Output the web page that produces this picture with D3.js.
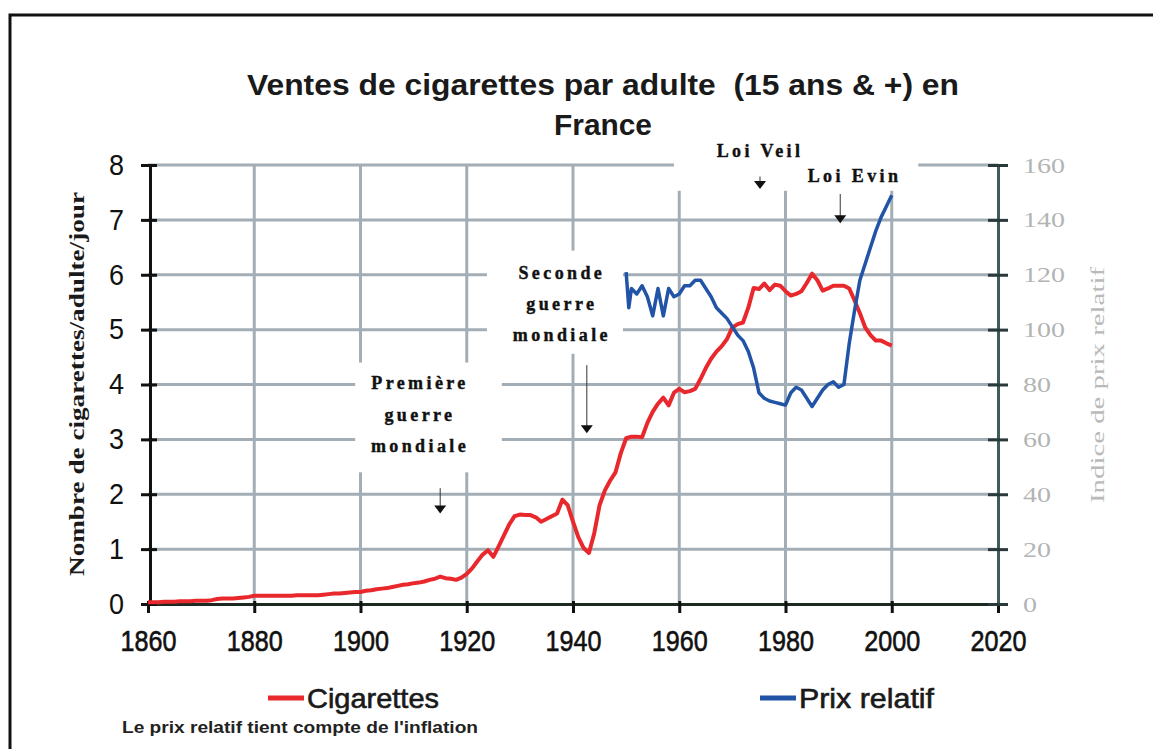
<!DOCTYPE html>
<html>
<head>
<meta charset="utf-8">
<script src="https://cdn.jsdelivr.net/npm/d3@7"></script>
<style>
  html, body { margin: 0; padding: 0; background: #fff; }
  svg { display: block; }
  .narrow { font-family: "Liberation Sans Narrow", "Arial Narrow", "Liberation Sans", sans-serif; font-weight: bold; }
  .serif { font-family: "Liberation Serif", "DejaVu Serif", serif; }
</style>
</head>
<body>
<div id="chart"></div>
<script>
// cigarettes per adult per day, one value per year 1860..2000
var cigYears = d3.range(1860, 2001);
var cigValues = [
  0.03, 0.03, 0.03, 0.04, 0.04, 0.04, 0.05, 0.05, 0.05, 0.06,
  0.06, 0.06, 0.07, 0.09, 0.10, 0.10, 0.10, 0.11, 0.12, 0.13,
  0.15, 0.15, 0.15, 0.15, 0.15, 0.15, 0.15, 0.15, 0.16, 0.16,
  0.16, 0.16, 0.16, 0.17, 0.18, 0.19, 0.19, 0.20, 0.21, 0.22,
  0.22, 0.24, 0.25, 0.27, 0.28, 0.29, 0.31, 0.33, 0.35, 0.36,
  0.38, 0.39, 0.41, 0.44, 0.46, 0.50, 0.47, 0.46, 0.44, 0.48,
  0.55, 0.65, 0.78, 0.90, 0.98, 0.86, 1.05, 1.25, 1.45, 1.60,
  1.63, 1.62, 1.62, 1.58, 1.50, 1.55, 1.60, 1.65, 1.90, 1.80,
  1.50, 1.22, 1.02, 0.93, 1.29, 1.80, 2.07, 2.25, 2.40, 2.75,
  3.02, 3.05, 3.05, 3.04, 3.30, 3.50, 3.65, 3.76, 3.62, 3.85,
  3.92, 3.86, 3.88, 3.92, 4.10, 4.30, 4.47, 4.60, 4.70, 4.83,
  5.04, 5.10, 5.13, 5.40, 5.76, 5.74, 5.84, 5.72, 5.82, 5.80,
  5.70, 5.62, 5.65, 5.70, 5.85, 6.02, 5.90, 5.71, 5.75, 5.80,
  5.80, 5.80, 5.75, 5.53, 5.30, 5.04, 4.90, 4.80, 4.80, 4.75,
  4.71
];

// relative price index (inflation adjusted)
var priceYears = [1950, 1950.5, 1951, 1952, 1953, 1954, 1955, 1956, 1957, 1958, 1959,
  1960, 1961, 1962, 1963, 1964, 1965, 1966, 1967, 1968, 1969,
  1970, 1971, 1972, 1973, 1974, 1975, 1976, 1977, 1978, 1979,
  1980, 1981, 1982, 1983, 1984, 1985, 1986, 1987, 1988, 1989,
  1990, 1991, 1992, 1993, 1994, 1995, 1996, 1997, 1998, 1999, 2000];
var priceValues = [121, 108, 115, 113, 116, 112, 105, 115, 105, 115, 112,
  113, 116, 116, 118, 118, 115, 112, 108, 106, 104,
  101, 98, 96, 92, 86, 77, 75, 74, 73.5, 73,
  72.5, 77, 79, 78, 75, 72, 75, 78, 80, 81,
  79, 80, 95, 107, 118, 124, 130, 136, 141, 145, 149];

var xTicks = [1860, 1880, 1900, 1920, 1940, 1960, 1980, 2000, 2020];
var yTicks = [0, 1, 2, 3, 4, 5, 6, 7, 8];
var y2Ticks = [0, 20, 40, 60, 80, 100, 120, 140, 160];

var titleLines = ["Ventes de cigarettes par adulte  (15 ans & +) en", "France"];
var events = [
  {lines: ["Première", "guerre", "mondiale"], year: 1915, value: 1.76},
  {lines: ["Seconde", "guerre", "mondiale"], year: 1942.6, value: 3.22},
  {lines: ["Loi Veil"], year: 1975.2, value: 7.67},
  {lines: ["Loi Evin"], year: 1990.3, value: 7.05}
];

var W = 1153, H = 749;
var x = d3.scaleLinear().domain([1860, 2020]).range([148, 998]);
var y = d3.scaleLinear().domain([0, 8]).range([604, 165]);
var y2 = d3.scaleLinear().domain([0, 160]).range([604, 165]);

var svg = d3.select("#chart").append("svg")
    .attr("width", W)
    .attr("height", H);

// frame
svg.append("path")
    .attr("d", "M10,749 L10,15 L1153,15")
    .style("fill", "none")
    .style("stroke", "#111")
    .style("stroke-width", 3);

var gridColor = "#a3adb5";

// grid
svg.append("g").selectAll("line")
    .data(yTicks.slice(1))
    .enter().append("line")
    .attr("x1", x(1860)).attr("x2", x(2020))
    .attr("y1", function(d) { return y(d); })
    .attr("y2", function(d) { return y(d); })
    .style("stroke", gridColor)
    .style("stroke-width", 3);

svg.append("g").selectAll("line")
    .data(xTicks.slice(1, -1))
    .enter().append("line")
    .attr("y1", y(0)).attr("y2", y(8))
    .attr("x1", function(d) { return x(d); })
    .attr("x2", function(d) { return x(d); })
    .style("stroke", gridColor)
    .style("stroke-width", 3);

// white boxes behind the annotations (they hide the grid like in the original)
var boxes = [
  {x0: 1899.0, x1: 1926.6, v0: 4.4, v1: 2.4},
  {x0: 1923.8, x1: 1949.4, v0: 6.44, v1: 4.56},
  {x0: 1959.0, x1: 2005.0, v0: 8.4, v1: 7.53}
];
svg.append("g").selectAll("rect")
    .data(boxes)
    .enter().append("rect")
    .attr("x", function(d) { return x(d.x0); })
    .attr("width", function(d) { return x(d.x1) - x(d.x0); })
    .attr("y", function(d) { return y(d.v0); })
    .attr("height", function(d) { return y(d.v1) - y(d.v0); })
    .style("fill", "#fff");

// axes
var xAxis = svg.append("g")
    .attr("transform", "translate(0," + y(0) + ")")
    .call(d3.axisBottom(x).tickValues(xTicks).tickFormat(d3.format("d")).tickSize(9).tickPadding(17));
xAxis.select(".domain").style("stroke", "#1c2a22").style("stroke-width", 3);
xAxis.selectAll(".tick line").style("stroke", "#111").style("stroke-width", 3).attr("y1", -3);
xAxis.selectAll("text")
    .attr("class", "narrow")
    .attr("textLength", 56)
    .attr("lengthAdjust", "spacingAndGlyphs")
    .style("font-size", "30px").style("font-weight", "normal").style("fill", "#111")
    .style("stroke", "#111").style("stroke-width", 0.6);

var yAxis = svg.append("g")
    .attr("transform", "translate(" + 150 + ",0)")
    .call(d3.axisLeft(y).tickValues(yTicks).tickSize(9).tickPadding(17));
yAxis.select(".domain").style("stroke", "#111").style("stroke-width", 3);
yAxis.selectAll(".tick line").style("stroke", "#111").style("stroke-width", 3).attr("x1", 7);
yAxis.selectAll("text")
    .attr("class", "narrow")
    .attr("textLength", 15)
    .attr("lengthAdjust", "spacingAndGlyphs")
    .style("font-size", "29px").style("font-weight", "normal").style("fill", "#111");

var y2Axis = svg.append("g")
    .attr("transform", "translate(" + 998 + ",0)")
    .call(d3.axisRight(y2).tickValues(y2Ticks).tickSize(10).tickPadding(15));
y2Axis.select(".domain").style("stroke", "#3d5c5c").style("stroke-width", 3);
y2Axis.selectAll(".tick line").style("stroke", "#2a3a3a").style("stroke-width", 3).attr("x1", -10);
y2Axis.selectAll("text")
    .attr("class", "serif")
    .attr("textLength", function(d) { return String(d).length * 14; })
    .attr("lengthAdjust", "spacingAndGlyphs")
    .style("font-size", "22px").style("fill", "#b2b4b4");

// axis titles
svg.append("text")
    .attr("class", "serif")
    .attr("transform", "translate(84," + 384 + ") rotate(-90)")
    .attr("text-anchor", "middle")
    .attr("textLength", 384)
    .attr("lengthAdjust", "spacingAndGlyphs")
    .style("font-size", "21px")
    .style("font-weight", "bold")
    .style("fill", "#1a1a1a")
    .text("Nombre de cigarettes/adulte/jour");

svg.append("text")
    .attr("class", "serif")
    .attr("transform", "translate(1104," + 385 + ") rotate(-90)")
    .attr("text-anchor", "middle")
    .attr("textLength", 236)
    .attr("lengthAdjust", "spacingAndGlyphs")
    .style("font-size", "19px")
    .style("fill", "#b8baba")
    .text("Indice de prix relatif");

// lines
var cigLine = d3.line()
    .x(function(d, i) { return x(cigYears[i]); })
    .y(function(d) { return y(d); });

var priceLine = d3.line()
    .x(function(d, i) { return x(priceYears[i]); })
    .y(function(d) { return y2(d); });

svg.append("path")
    .datum(cigValues)
    .attr("d", cigLine)
    .style("fill", "none")
    .style("stroke", "#e8282c")
    .style("stroke-width", 4)
    .style("stroke-linejoin", "round");

svg.append("path")
    .datum(priceValues)
    .attr("d", priceLine)
    .style("fill", "none")
    .style("stroke", "#2154a6")
    .style("stroke-width", 3.5)
    .style("stroke-linejoin", "round");

// title
svg.append("g").selectAll("text")
    .data(titleLines)
    .enter().append("text")
    .attr("class", "narrow")
    .attr("x", 603)
    .attr("y", function(d, i) { return 95 + i * 40; })
    .attr("text-anchor", "middle")
    .attr("textLength", function(d, i) { return i === 0 ? 712 : 98; })
    .attr("lengthAdjust", "spacingAndGlyphs")
    .style("white-space", "pre")
    .style("font-size", "30px")
    .style("fill", "#1a1a1a")
    .text(function(d) { return d; });

// annotations
var ann = svg.append("g");
var labelPos = [
  {cx: 1911.2, top: 3.91, step: 0.57},
  {cx: 1937.9, top: 5.93, step: 0.57},
  {cx: 1975.2, top: 8.145, step: 0},
  {cx: 1993.0, top: 7.69, step: 0}
];
events.forEach(function(e, k) {
  var p = labelPos[k];
  e.lines.forEach(function(t, j) {
    ann.append("text")
        .attr("class", "serif")
        .attr("x", x(p.cx))
        .attr("y", y(p.top - j * p.step))
        .attr("text-anchor", "middle")
        .style("font-size", "18px")
        .style("font-weight", "bold")
        .style("letter-spacing", "3.4px")
        .style("fill", "#111")
        .style("stroke", "#111")
        .style("stroke-width", 0.4)
        .text(t);
  });
});

var arrowLen = [0.35, 1.13, 0.12, 0.42];
events.forEach(function(e, k) {
  var ax = x(e.year), ay = y(e.value);
  ann.append("line")
      .attr("x1", ax).attr("x2", ax)
      .attr("y1", ay - 55 * arrowLen[k]).attr("y2", ay)
      .style("stroke", "#333")
      .style("stroke-width", 1);
  ann.append("path")
      .attr("d", "M" + (ax - 6) + "," + (ay - 2) + " L" + (ax + 6) + "," + (ay - 2) + " L" + ax + "," + (ay + 6) + "Z")
      .style("fill", "#111");
});

// legend
var legend = [
  {name: "Cigarettes", color: "#e8282c", x0: 268, len: 132},
  {name: "Prix relatif", color: "#2154a6", x0: 760, len: 135}
];
var lg = svg.append("g").selectAll("g")
    .data(legend)
    .enter().append("g");
lg.append("line")
    .attr("x1", function(d) { return d.x0; })
    .attr("x2", function(d) { return d.x0 + 36; })
    .attr("y1", 698).attr("y2", 698)
    .style("stroke", function(d) { return d.color; })
    .style("stroke-width", 5);
lg.append("text")
    .attr("class", "narrow")
    .attr("x", function(d) { return d.x0 + 39; })
    .attr("y", 708)
    .attr("textLength", function(d) { return d.len; })
    .attr("lengthAdjust", "spacingAndGlyphs")
    .style("font-size", "28px")
    .style("font-weight", "normal")
    .style("fill", "#1a1a1a")
    .style("stroke", "#1a1a1a")
    .style("stroke-width", 0.6)
    .text(function(d) { return d.name; });

svg.append("text")
    .attr("class", "narrow")
    .attr("x", 122)
    .attr("y", 733)
    .attr("textLength", 356)
    .attr("lengthAdjust", "spacingAndGlyphs")
    .style("font-size", "16px")
    .style("fill", "#222")
    .text("Le prix relatif tient compte de l'inflation");
</script>
</body>
</html>
